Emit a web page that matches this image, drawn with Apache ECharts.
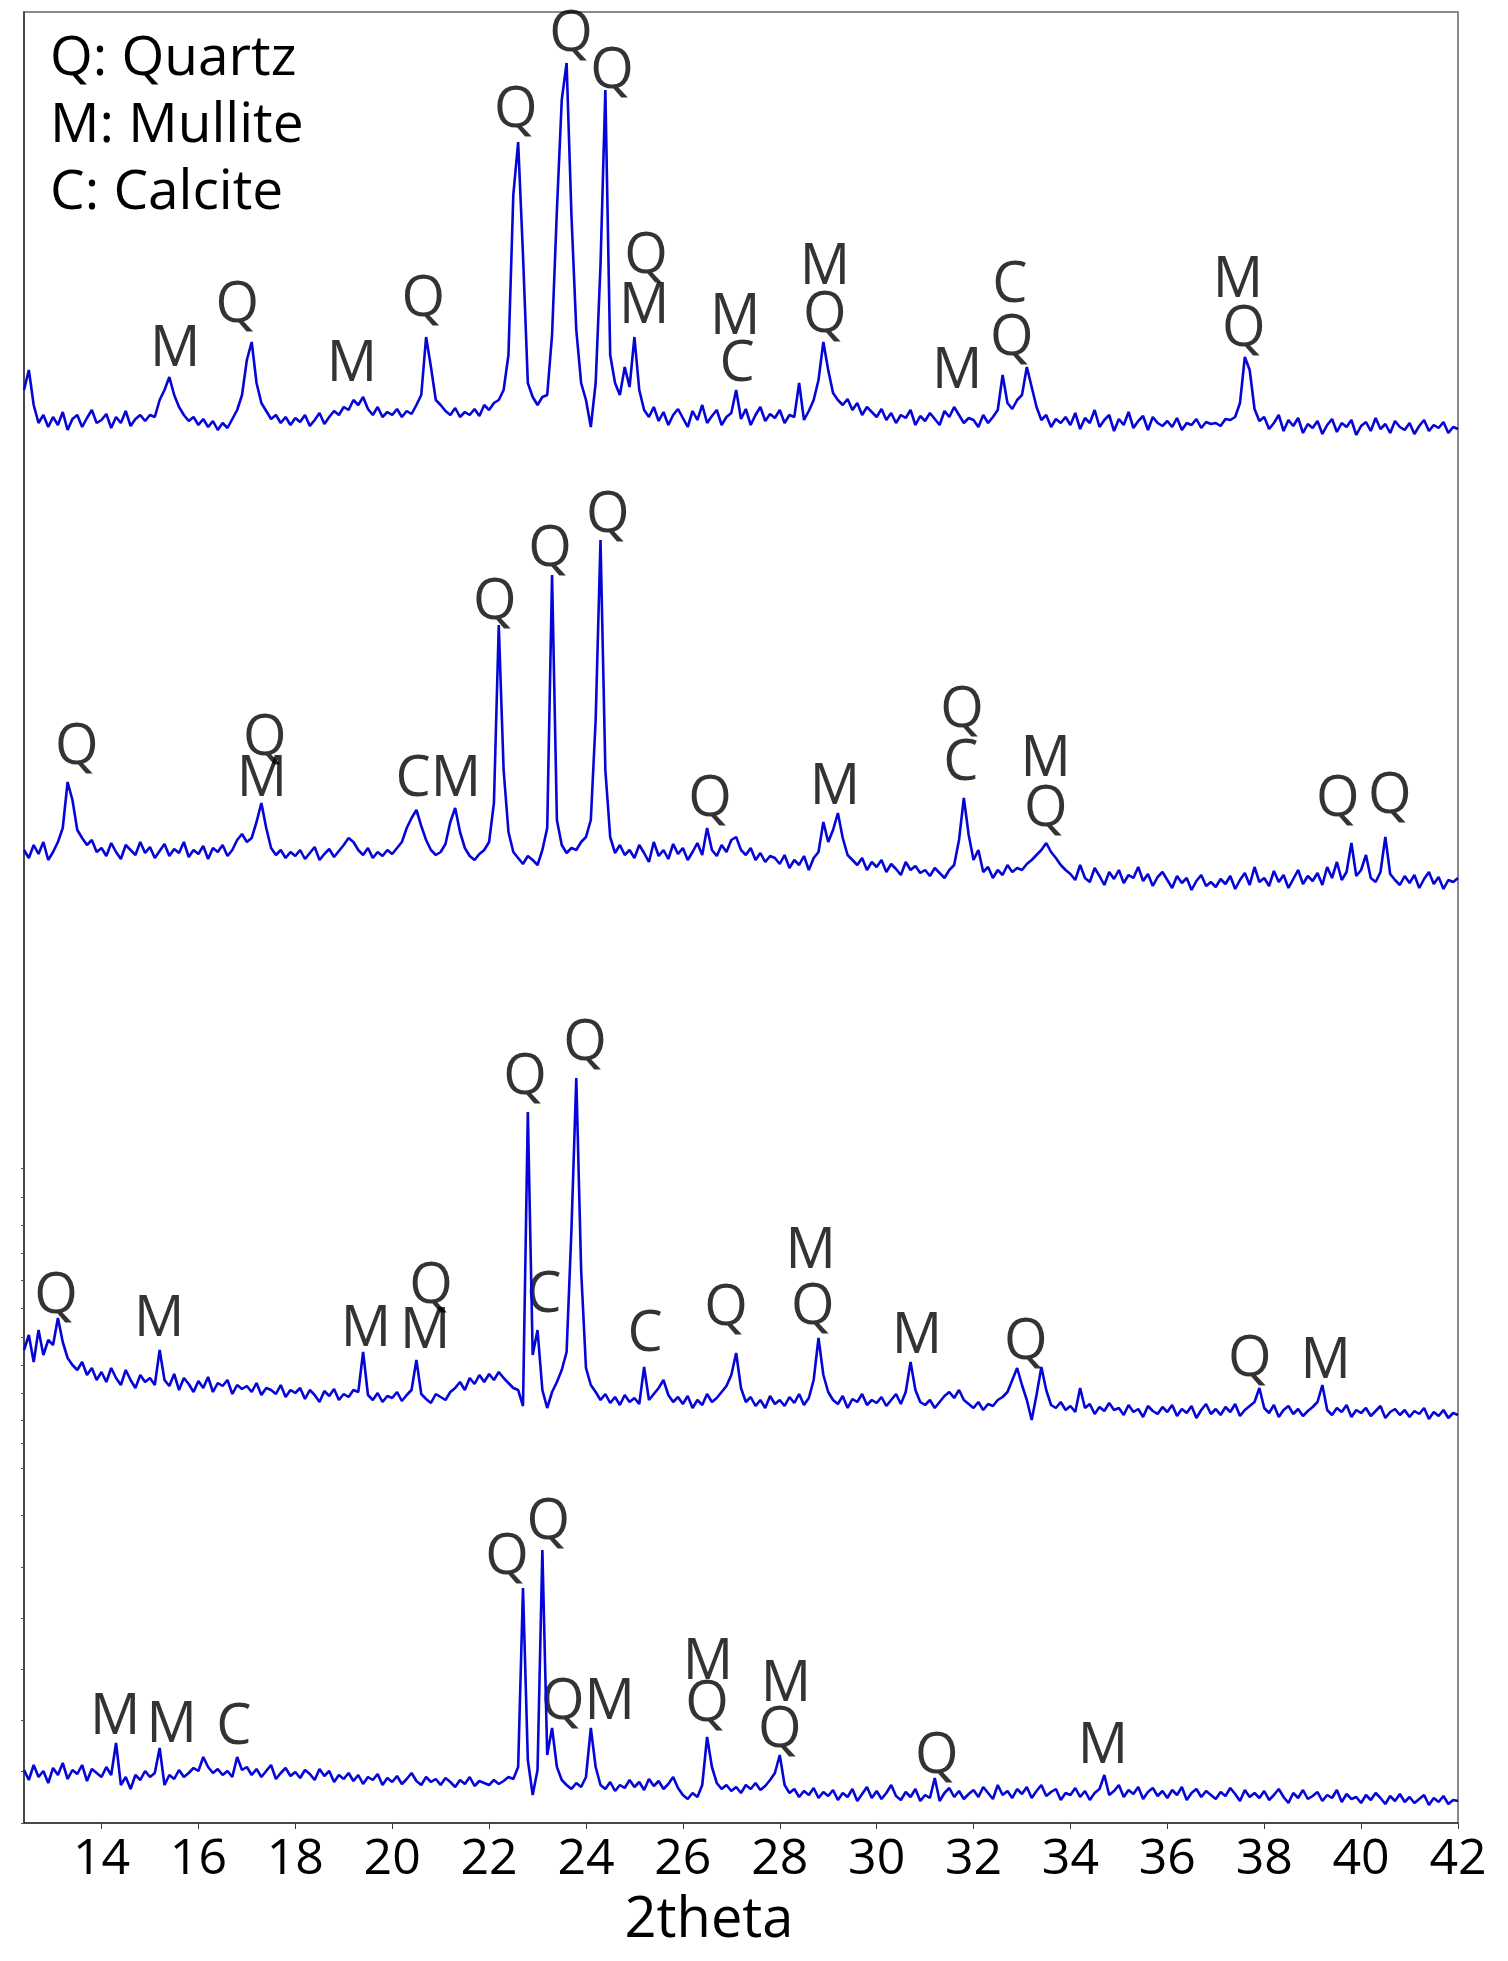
<!DOCTYPE html>
<html>
<head>
<meta charset="utf-8">
<title>XRD patterns</title>
<script src="https://cdn.jsdelivr.net/npm/echarts@6/dist/echarts.min.js"></script>
<style>
  html, body { margin: 0; padding: 0; background: #fff; }
  #chart { width: 1508px; height: 1961px; }
</style>
</head>
<body>
<div id="chart"></div>
<script>
// 2theta sampling shared by every trace
const thetaStart = 12.4;
const thetaStep = 0.1;
const xTicks = [14, 16, 18, 20, 22, 24, 26, 28, 30, 32, 34, 36, 38, 40, 42];
// left axis ticks only show in the lower half of the original
const yTicks = [0, 52, 103, 154, 205, 256, 308, 355, 380, 403, 430, 458, 486, 515, 543, 570, 598, 626, 655];

// intensities (a.u.), one value per step from 12.4 to 42.0 -- top trace
const patternA = [
  55, 75, 40, 22, 30, 18,
  28, 20, 33, 15, 26, 30, 18, 27, 35, 22,   // 13
  25, 31, 17, 28, 22, 34, 19, 26, 30, 24,   // 14
  30, 28, 45, 55, 68, 50, 38, 30, 24, 28,   // 15
  20, 26, 18, 24, 15, 22, 17, 26, 35, 50,   // 16
  85, 103, 62, 42, 34, 26, 30, 22, 28, 20,  // 17
  27, 23, 30, 19, 25, 32, 21, 28, 34, 30,   // 18
  38, 35, 45, 40, 48, 36, 30, 38, 28, 33,   // 19
  30, 36, 28, 34, 31, 40, 50, 108, 78, 45,  // 20
  40, 34, 30, 37, 28, 33, 30, 36, 29, 40,   // 21
  35, 42, 45, 55, 90, 250, 303, 190, 62, 48, // 22
  40, 48, 50, 110, 235, 345, 382, 230, 115, 62, // 23
  45, 18, 62, 180, 355, 90, 62, 50, 78, 58, // 24
  108, 55, 35, 28, 38, 24, 33, 20, 30, 36,  // 25
  27, 18, 34, 25, 40, 22, 29, 35, 20, 28,   // 26
  32, 55, 26, 36, 20, 30, 38, 24, 31, 27,   // 27
  35, 22, 30, 28, 62, 25, 34, 45, 65, 103,  // 28
  75, 52, 45, 40, 46, 35, 42, 30, 38, 33,   // 29
  28, 36, 25, 32, 22, 30, 27, 35, 20, 29,   // 30
  24, 32, 26, 20, 34, 28, 38, 30, 22, 27,   // 31
  25, 18, 30, 22, 28, 35, 70, 42, 36, 45,   // 32
  50, 78, 58, 38, 25, 30, 18, 26, 22, 28,   // 33
  20, 32, 16, 27, 22, 35, 18, 25, 30, 14,   // 34
  26, 20, 33, 17, 24, 29, 15, 28, 22, 19,   // 35
  24, 18, 27, 15, 22, 20, 26, 17, 23, 21,   // 36
  22, 19, 26, 25, 28, 42, 88, 75, 36, 24,   // 37
  28, 16, 22, 30, 14, 25, 19, 27, 12, 21,   // 38
  17, 24, 11, 20, 26, 13, 22, 18, 25, 10,   // 39
  19, 23, 14, 27, 16, 21, 12, 24, 18, 15,   // 40
  22, 11, 19, 25, 14, 20, 17, 23, 12, 18,   // 41
  16
];

// second trace
const patternB = [
  50, 42, 55, 46, 58, 40,
  48, 58, 72, 118, 100, 70, 62, 55, 60, 48, // 13
  52, 44, 57, 48, 41, 55, 50, 45, 58, 47,   // 14
  53, 42, 49, 56, 44, 51, 47, 58, 43, 50,   // 15
  46, 54, 41, 52, 48, 55, 44, 50, 60, 66,   // 16
  58, 62, 78, 97, 72, 52, 45, 50, 42, 48,   // 17
  44, 50, 41, 47, 53, 40, 46, 51, 43, 49,   // 18
  55, 62, 58, 50, 45, 52, 42, 48, 44, 50,   // 19
  46, 52, 58, 72, 82, 90, 74, 60, 50, 45,   // 20
  48, 56, 78, 92, 68, 52, 44, 40, 46, 50,   // 21
  58, 97, 275, 130, 68, 48, 42, 36, 44, 40, // 22
  35, 50, 72, 325, 80, 55, 47, 52, 50, 58,  // 23
  63, 80, 180, 360, 130, 63, 47, 55, 45, 50, // 24
  42, 55, 47, 38, 58, 44, 50, 41, 56, 46,   // 25
  52, 40, 48, 57, 45, 72, 50, 44, 55, 48,   // 26
  60, 63, 50, 45, 52, 40, 47, 38, 44, 42,   // 27
  36, 45, 32, 40, 35, 44, 30, 42, 48, 78,   // 28
  58, 70, 87, 62, 45, 40, 35, 42, 30, 38,   // 29
  33, 40, 28, 36, 31, 25, 38, 30, 34, 27,   // 30
  30, 24, 32, 27, 22, 30, 35, 60, 102, 65,  // 31
  40, 50, 28, 33, 22, 30, 25, 35, 28, 32,   // 32
  30, 36, 40, 45, 50, 57, 48, 42, 35, 30,   // 33
  26, 20, 35, 22, 18, 32, 24, 15, 28, 21,   // 34
  30, 17, 25, 22, 33, 19, 26, 14, 23, 28,   // 35
  20, 12, 24, 17, 22, 10, 19, 25, 14, 18,   // 36
  13, 21, 16, 24, 11, 20, 27, 15, 33, 18,   // 37
  22, 14, 29, 18, 25, 12, 21, 30, 16, 24,   // 38
  19, 27, 15, 33, 22, 38, 20, 28, 57, 24,   // 39
  30, 45, 22, 18, 28, 63, 26, 20, 15, 24,   // 40
  17, 25, 12, 21, 28, 16, 23, 11, 20, 18,   // 41
  22
];

// third trace
const patternC = [
  80, 95, 68, 100, 75, 90,
  85, 112, 88, 72, 65, 60, 68, 55, 62, 50,  // 13
  58, 48, 62, 52, 45, 60, 50, 42, 55, 48,   // 14
  52, 45, 80, 50, 44, 56, 40, 52, 46, 38,   // 15
  49, 42, 53, 38, 47, 44, 50, 36, 45, 41,   // 16
  44, 38, 47, 35, 42, 40, 36, 45, 33, 40,   // 17
  37, 42, 31, 40, 35, 28, 39, 34, 41, 30,   // 18
  36, 33, 40, 38, 78, 35, 30, 37, 28, 34,   // 19
  32, 38, 29, 35, 40, 70, 36, 31, 27, 36,   // 20
  33, 30, 38, 42, 48, 40, 52, 46, 55, 48,   // 21
  56, 50, 58, 52, 47, 42, 40, 24, 318, 75,  // 22
  100, 40, 22, 38, 48, 60, 78, 200, 352, 160, // 23
  62, 45, 38, 30, 36, 27, 33, 25, 35, 28,   // 24
  32, 26, 63, 30, 36, 42, 50, 35, 28, 33,   // 25
  26, 34, 22, 30, 25, 36, 28, 32, 38, 44,   // 26
  55, 77, 42, 28, 33, 24, 30, 22, 34, 26,   // 27
  30, 24, 33, 27, 36, 25, 32, 50, 92, 55,   // 28
  38, 30, 26, 34, 22, 31, 28, 36, 25, 30,   // 29
  27, 33, 24, 30, 36, 26, 38, 68, 40, 28,   // 30
  25, 30, 22, 28, 34, 38, 32, 40, 30, 26,   // 31
  22, 28, 20, 26, 24, 30, 33, 38, 50, 62,   // 32
  45, 30, 10, 35, 63, 40, 25, 22, 28, 20,   // 33
  24, 18, 42, 22, 26, 16, 23, 19, 27, 20,   // 34
  22, 15, 25, 18, 21, 13, 24, 19, 16, 23,   // 35
  18, 25, 14, 21, 17, 24, 12, 20, 26, 16,   // 36
  21, 15, 23, 18, 26, 14, 20, 24, 28, 42,   // 37
  22, 17, 25, 13, 20, 24, 16, 21, 14, 19,   // 38
  23, 28, 45, 20, 15, 22, 18, 25, 13, 20,   // 39
  17, 22, 14, 19, 24, 12, 18, 21, 15, 20,   // 40
  13, 19, 16, 22, 11, 18, 14, 20, 12, 17,   // 41
  15
];

// bottom trace
const patternD = [
  45, 35, 50, 38, 44, 32,
  47, 40, 52, 36, 45, 41, 50, 34, 46, 42,   // 13
  38, 48, 40, 72, 30, 38, 26, 40, 35, 44,   // 14
  38, 42, 67, 30, 40, 36, 45, 38, 42, 47,   // 15
  44, 58, 48, 42, 46, 40, 44, 38, 58, 45,   // 16
  48, 40, 46, 38, 44, 50, 36, 42, 47, 39,   // 17
  43, 37, 45, 41, 35, 46, 39, 44, 33, 40,   // 18
  36, 42, 34, 40, 31, 38, 35, 41, 30, 37,   // 19
  33, 39, 31, 36, 42, 34, 30, 38, 33, 36,   // 20
  30, 37, 33, 28, 35, 31, 38, 29, 34, 32,   // 21
  30, 35, 31, 34, 38, 36, 48, 227, 55, 20,  // 22
  45, 265, 60, 87, 48, 35, 30, 26, 32, 28,  // 23
  38, 87, 48, 30, 26, 33, 24, 30, 27, 35,   // 24
  28, 33, 25, 36, 29, 34, 26, 31, 38, 27,   // 25
  20, 16, 22, 18, 30, 78, 48, 32, 26, 30,   // 26
  24, 28, 22, 30, 26, 32, 25, 29, 35, 42,   // 27
  60, 30, 22, 26, 18, 24, 20, 27, 17, 23,   // 28
  19, 25, 15, 22, 18, 26, 14, 21, 28, 17,   // 29
  24, 16, 22, 30, 19, 15, 23, 18, 26, 14,   // 30
  20, 17, 37, 14, 22, 27, 18, 24, 16, 21,   // 31
  25, 18, 28, 22, 16, 30, 20, 24, 17, 26,   // 32
  21, 28, 17, 24, 30, 19, 23, 26, 15, 22,   // 33
  20, 27, 18, 24, 15, 22, 26, 40, 20, 24,   // 34
  30, 18, 25, 21, 28, 16, 23, 27, 19, 24,   // 35
  17, 25, 20, 28, 15, 22, 26, 18, 24, 20,   // 36
  16, 23, 19, 27, 21, 14, 25, 18, 22, 17,   // 37
  24, 15, 20, 26, 18, 12, 22, 17, 25, 16,   // 38
  19, 23, 14, 20, 17, 25, 13, 21, 16, 18,   // 39
  12, 20, 15, 22, 17, 11, 19, 14, 21, 13,   // 40
  18, 12, 16, 20, 10, 17, 13, 19, 11, 15,   // 41
  14
];

// phase marks: [2theta, height, letter]
const marksA = [
  [15.52, 95, 'M'], [16.80, 139, 'Q'], [19.17, 80, 'M'], [20.64, 145, 'Q'],
  [22.55, 334, 'Q'], [23.69, 410, 'Q'], [24.54, 373, 'Q'],
  [25.24, 188, 'Q'], [25.20, 138, 'M'], [27.08, 127, 'M'], [27.12, 80, 'C'],
  [28.93, 177, 'M'], [28.93, 129, 'Q'], [31.66, 73, 'M'],
  [32.75, 159, 'C'], [32.79, 106, 'Q'], [37.46, 164, 'M'], [37.58, 115, 'Q']
];
const marksB = [
  [13.49, 152, 'Q'], [17.37, 161, 'Q'], [17.31, 120, 'M'], [20.95, 120, 'CM'],
  [22.12, 297, 'Q'], [23.26, 350, 'Q'], [24.45, 384, 'Q'], [26.56, 100, 'Q'],
  [29.14, 112, 'M'], [31.76, 189, 'Q'], [31.74, 136, 'C'], [33.49, 140, 'M'],
  [33.49, 90, 'Q'], [39.52, 100, 'Q'], [40.59, 103, 'Q']
];
const marksC = [
  [13.06, 133, 'Q'], [15.19, 110, 'M'], [19.46, 100, 'M'], [20.80, 143, 'Q'],
  [20.68, 98, 'M'], [22.74, 352, 'Q'], [23.13, 134, 'C'], [23.98, 386, 'Q'],
  [25.22, 95, 'C'], [26.89, 121, 'Q'], [28.64, 178, 'M'], [28.68, 122, 'Q'],
  [30.83, 93, 'M'], [33.08, 87, 'Q'], [37.70, 70, 'Q'], [39.27, 68, 'M']
];
const marksD = [
  [14.28, 97, 'M'], [15.45, 89, 'M'], [16.73, 87, 'C'], [22.37, 257, 'Q'],
  [23.22, 292, 'Q'], [24.04, 112, 'QM'], [26.52, 152, 'M'], [26.50, 110, 'Q'],
  [28.13, 130, 'M'], [28.00, 84, 'Q'], [31.24, 58, 'Q'], [34.67, 68, 'M']
];

const phaseNames = ['Q: Quartz', 'M: Mullite', 'C: Calcite'];

// vertical shift of each trace on the shared axis (stacked plot)
const shifts = [1378, 923, 393, 8];
const patterns = [patternA, patternB, patternC, patternD];
const marks = [marksA, marksB, marksC, marksD];
const lineColor = '#0505d8';
const textFont = 'Open Sans';

const chart = echarts.init(document.getElementById('chart'));

let series = [];
patterns.forEach((vals, k) => {
  series.push({
    type: 'line',
    symbol: 'none',
    silent: true,
    data: vals.map((v, i) => [+(thetaStart + i * thetaStep).toFixed(1), v + shifts[k]]),
    lineStyle: { color: lineColor, width: 2.6 },
  });
  series.push({
    type: 'scatter',
    symbolSize: 0,
    silent: true,
    data: marks[k].map((m) => ({ name: m[2], value: [m[0], m[1] + shifts[k]] })),
    label: {
      show: true,
      position: 'inside',
      formatter: '{b}',
      color: '#000',
      fontFamily: textFont,
      fontSize: 56,
    },
  });
});

const option = {
  animation: false,
  backgroundColor: '#fff',
  grid: {
    left: 24,
    right: 50,
    top: 12,
    bottom: 138,
    show: true,
    borderColor: '#666',
    borderWidth: 1.5,
  },
  xAxis: {
    type: 'value',
    min: 12.4,
    max: 42,
    name: '2theta',
    nameLocation: 'middle',
    nameGap: 70,
    nameTextStyle: { fontFamily: textFont, fontSize: 56, color: '#000', padding: [0, 64, 0, 0] },
    axisLine: { show: true, lineStyle: { color: '#333', width: 1.5 } },
    axisTick: { show: true, customValues: xTicks, length: 6, lineStyle: { color: '#333' } },
    axisLabel: { customValues: xTicks, fontFamily: textFont, fontSize: 50, color: '#000', margin: 12 },
    splitLine: { show: false },
  },
  yAxis: {
    type: 'value',
    min: 0,
    max: 1811,
    axisLine: { show: true, lineStyle: { color: '#333', width: 1.5 } },
    axisTick: { show: true, customValues: yTicks, length: 3, lineStyle: { color: '#555' } },
    axisLabel: { show: false },
    splitLine: { show: false },
  },
  graphic: phaseNames.map((t, i) => ({
    type: 'text',
    x: 50,
    y: 59 + i * 67,
    style: { text: t, font: '55px "Open Sans"', fill: '#000', verticalAlign: 'middle' },
  })),
  series: series,
};

chart.setOption(option);
</script>
</body>
</html>
